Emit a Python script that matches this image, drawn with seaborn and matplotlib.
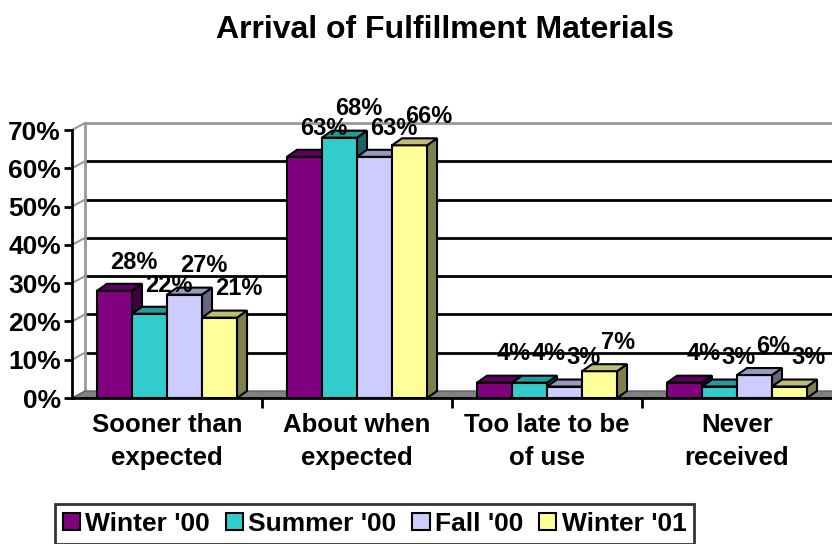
import numpy as np
import pandas as pd
import matplotlib.pyplot as plt
from matplotlib.patches import Polygon, Rectangle
import matplotlib.colors as mcolors
import seaborn as sns

# data
categories = ["Sooner than\nexpected", "About when\nexpected", "Too late to be\nof use", "Never\nreceived"]
periods = ["Winter '00", "Summer '00", "Fall '00", "Winter '01"]
winter_00 = [28, 63, 4, 4]
summer_00 = [22, 68, 4, 3]
fall_00 = [27, 63, 3, 6]
winter_01 = [21, 66, 7, 3]
colors = ["#800080", "#33CCCC", "#CCCCFF", "#FFFF99"]

df = pd.DataFrame({
    "category": categories * 4,
    "period": np.repeat(periods, 4),
    "value": winter_00 + summer_00 + fall_00 + winter_01,
})

sns.set_style("white")
plt.rcParams['font.family'] = ['Liberation Sans', 'DejaVu Sans']
plt.rcParams['font.weight'] = 'bold'
plt.rcParams['text.color'] = 'black'
plt.rcParams['xtick.color'] = 'black'
plt.rcParams['ytick.color'] = 'black'

W, H = 832, 544
fig = plt.figure(figsize=(W / 100, H / 100), dpi=100)
ax_l, ax_r, ax_t, ax_b = 72, 832, 130, 398
ax = fig.add_axes([ax_l / W, 1 - ax_b / H, (ax_r - ax_l) / W, (ax_b - ax_t) / H])

sns.barplot(data=df, x="category", y="value", hue="period", palette=colors,
            width=0.737, gap=0, edgecolor="black", linewidth=1.5,
            saturation=1, legend=False, ax=ax)
ax.set_xlim(-0.5, 3.5)
ax.set_ylim(0, 70)

px_x = 4 / (ax_r - ax_l)        # data units per pixel in x
px_y = 70 / (ax_b - ax_t)       # data units per pixel in y
wdx, wdy = 13 * px_x, 7 * px_y  # depth of back wall
bdx, bdy = 10 * px_x, 7 * px_y  # depth of bars

# floor and back wall
floor = Polygon([(-0.5, 0), (3.5, 0), (3.5 + wdx, wdy), (-0.5 + wdx, wdy)],
                closed=True, facecolor="#808080", edgecolor="#606060", lw=1,
                zorder=0.5, clip_on=False)
ax.add_patch(floor)
for v in range(10, 80, 10):
    c = "#999999" if v == 70 else "black"
    ax.plot([-0.5 + wdx, 3.5 + wdx], [v + wdy, v + wdy], color=c, lw=2, zorder=0.4, clip_on=False)
    ax.plot([-0.5, -0.5 + wdx], [v, v + wdy], color="#999999", lw=1.5, zorder=0.4, clip_on=False)
ax.plot([-0.5 + wdx, -0.5 + wdx], [wdy, 70 + wdy], color="#999999", lw=2, zorder=0.4, clip_on=False)

# 3D faces for bars
bars = sorted([p for p in ax.patches if isinstance(p, Rectangle) and p is not floor],
              key=lambda p: p.get_x())
for i, p in enumerate(bars):
    x0, w, h = p.get_x(), p.get_width(), p.get_height()
    fc = np.array(mcolors.to_rgb(p.get_facecolor()))
    p.set_zorder(2 + i * 0.01)
    top = Polygon([(x0, h), (x0 + w, h), (x0 + w + bdx, h + bdy), (x0 + bdx, h + bdy)],
                  closed=True, facecolor=fc * 0.75, edgecolor="black", lw=1.5,
                  zorder=2 + i * 0.01, clip_on=False)
    side = Polygon([(x0 + w, 0), (x0 + w + bdx, bdy), (x0 + w + bdx, h + bdy), (x0 + w, h)],
                   closed=True, facecolor=fc * 0.5, edgecolor="black", lw=1.5,
                   zorder=2 + i * 0.01 - 0.001, clip_on=False)
    ax.add_patch(top)
    ax.add_patch(side)
    ax.text(x0 + w / 2 + 0.1, h + 7.5, f"{int(h)}%", ha="center", va="center",
            fontsize=17, fontweight="bold", zorder=5, clip_on=False)

# axes styling
for s in ["top", "right"]:
    ax.spines[s].set_visible(False)
for s in ["left", "bottom"]:
    ax.spines[s].set_color("black")
    ax.spines[s].set_linewidth(2)
    ax.spines[s].set_zorder(3)
ax.set_yticks(range(0, 80, 10))
ax.set_yticklabels([f"{v}%" for v in range(0, 80, 10)], fontsize=19, fontweight="bold")
ax.tick_params(axis="y", left=True, length=6, width=2, pad=2, color="black")
ax.set_xticks(range(4))
ax.set_xticklabels(categories, fontsize=18.5, fontweight="bold", linespacing=1.45)
ax.tick_params(axis="x", which="major", length=0, pad=11)
ax.set_xticks([0.5, 1.5, 2.5], minor=True)
ax.tick_params(axis="x", which="minor", bottom=True, length=7, width=2, color="black")
ax.set_xlabel("")
ax.set_ylabel("")
ax.grid(False)

fig.text(445 / W, 1 - 30 / H, "Arrival of Fulfillment Materials", ha="center", va="center",
         fontsize=23, fontweight="bold")

handles = [Rectangle((0, 0), 1, 1, facecolor=c, edgecolor="black", lw=1.5) for c in colors]
leg = fig.legend(handles, periods, loc="upper left", bbox_to_anchor=(55 / W, 1 - 504 / H),
                 ncol=4, frameon=True, fancybox=False, edgecolor="black",
                 prop={"size": 19, "weight": "bold"}, handlelength=0.65, handleheight=0.65,
                 handletextpad=0.2, columnspacing=0.6, borderpad=0.3, borderaxespad=0)
leg.get_frame().set_linewidth(2)

fig.savefig("out.png", dpi=100)
